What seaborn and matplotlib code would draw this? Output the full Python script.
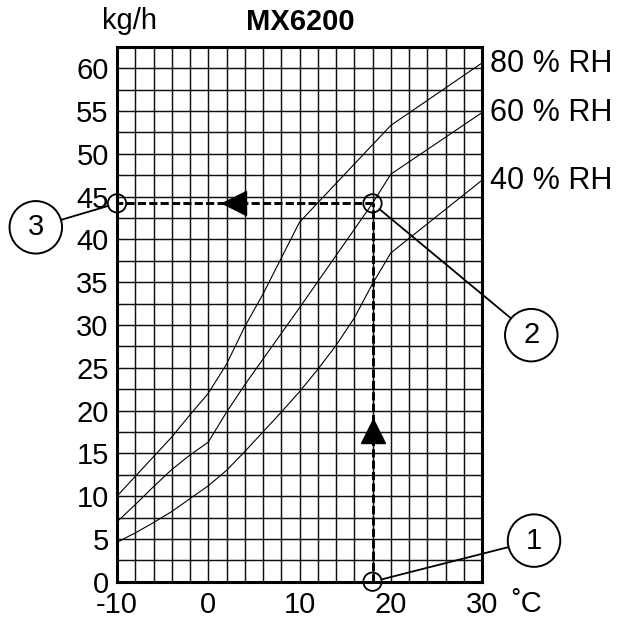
import numpy as np
import pandas as pd
import seaborn as sns
import matplotlib.pyplot as plt

# capacity curves (temperature in C, kg/h)
temp_80 = [-10, -8, -6, -4, -2, 0, 2, 4, 6, 8, 10, 20, 30]
flow_80 = [10.0, 12.3, 14.6, 16.9, 19.5, 22.0, 25.4, 29.8, 33.6, 37.8, 42.0, 53.3, 60.6]

temp_60 = [-10, -8, -6, -4, -2, 0, 2, 4, 10, 18, 20, 30]
flow_60 = [7.0, 9.0, 11.1, 13.1, 14.8, 16.3, 19.8, 23.0, 32.0, 44.2, 47.6, 54.8]

temp_40 = [-10, -8, -6, -4, -2, 0, 2, 4, 6, 8, 10, 12, 14, 16, 18, 20, 30]
flow_40 = [4.6, 5.7, 6.9, 8.2, 9.7, 11.2, 13.0, 15.2, 17.5, 19.8, 22.2, 24.8, 27.6, 30.8, 34.8, 38.4, 46.9]

rh_labels = ['80 % RH', '60 % RH', '40 % RH']

# worked example: 18 C at 60 % RH -> 44 kg/h
read_temp = 18
read_flow = 44.2
read_x = [read_temp, read_temp, -10]
read_y = [0, read_flow, read_flow]
callout_labels = ['1', '2', '3']
callout_x = [35.7, 35.4, -18.9]
callout_y = [4.8, 28.8, 41.4]

x_ticks = [-10, 0, 10, 20, 30]
x_tick_labels = ['-10', '0', '10', '20', '30']
y_ticks = list(range(0, 61, 5))

rows = []
for lab, xs, ys in zip(rh_labels, [temp_80, temp_60, temp_40], [flow_80, flow_60, flow_40]):
    for xv, yv in zip(xs, ys):
        rows.append({'rh': lab, 'temp': xv, 'flow': yv})
curves = pd.DataFrame(rows)

sns.set_style('white')
plt.rcParams['font.family'] = ['Liberation Sans', 'DejaVu Sans']
plt.rcParams['text.color'] = 'black'
plt.rcParams['xtick.color'] = 'black'
plt.rcParams['ytick.color'] = 'black'

fig = plt.figure(figsize=(6.24, 6.20), dpi=100)
ax = fig.add_axes([117 / 624, 1 - 581.7 / 620, 365 / 624, (581.7 - 46.7) / 620])

ax.set_xlim(-10, 30)
ax.set_ylim(0, 62.5)
ax.set_xticks(x_ticks)
ax.set_xticklabels(x_tick_labels)
ax.set_yticks(y_ticks)
ax.set_xticks(np.arange(-10, 31, 2), minor=True)
ax.set_yticks(np.arange(0, 62.6, 2.5), minor=True)
ax.grid(which='both', color='#111111', linewidth=1.05)
ax.set_axisbelow(True)
ax.tick_params(which='both', length=0, labelsize=21, colors='black')
ax.tick_params(axis='y', pad=6)
ax.tick_params(axis='x', pad=7)
for sp in ax.spines.values():
    sp.set_visible(True)
    sp.set_color('black')
    sp.set_linewidth(2.2)

sns.lineplot(data=curves, x='temp', y='flow', units='rh', estimator=None,
             sort=False, color='black', linewidth=0.8, ax=ax, legend=False)
ax.set_xlabel('')
ax.set_ylabel('')

for lab, ys in zip(rh_labels, [flow_80, flow_60, flow_40]):
    ax.text(30.9, ys[-1] - 1.0, lab, fontsize=22, va='baseline', ha='left', clip_on=False)

# reading path
dash = (0, (2.8, 1.1))
ax.plot([read_temp, read_temp], [0, read_flow], color='black', lw=2.1, linestyle=dash, clip_on=False, zorder=4)
ax.plot([read_temp, -10], [read_flow, read_flow], color='black', lw=2.1, linestyle=dash, clip_on=False, zorder=4)
ax.plot([read_temp], [17.65], marker='^', markersize=17.5, color='black', zorder=5, clip_on=False)
ax.plot([2.84], [read_flow], marker='<', markersize=17.5, color='black', zorder=5, clip_on=False)

sns.scatterplot(x=read_x, y=read_y, marker='o', s=175, facecolor='none', edgecolor='black',
                linewidth=1.3, ax=ax, zorder=6, clip_on=False)

for lab, px, py, cx, cy in zip(callout_labels, read_x, read_y, callout_x, callout_y):
    ax.annotate(lab, xy=(px, py), xytext=(cx, cy), textcoords='data', ha='center', va='center',
                fontsize=21, annotation_clip=False,
                bbox=dict(boxstyle='circle,pad=0.42', fc='white', ec='black', lw=1.4),
                arrowprops=dict(arrowstyle='-', color='black', lw=1.3, shrinkA=0, shrinkB=6.5))

fig.text(130 / 624, 1 - 29 / 620, 'kg/h', fontsize=21, ha='center', va='baseline')
fig.text(300 / 624, 1 - 30 / 620, 'MX6200', fontsize=21, fontweight='bold', ha='center', va='baseline')
fig.text(511 / 624, 1 - 612 / 620, '˚C', fontsize=21, ha='left', va='baseline')

fig.savefig('out.png', dpi=100)
